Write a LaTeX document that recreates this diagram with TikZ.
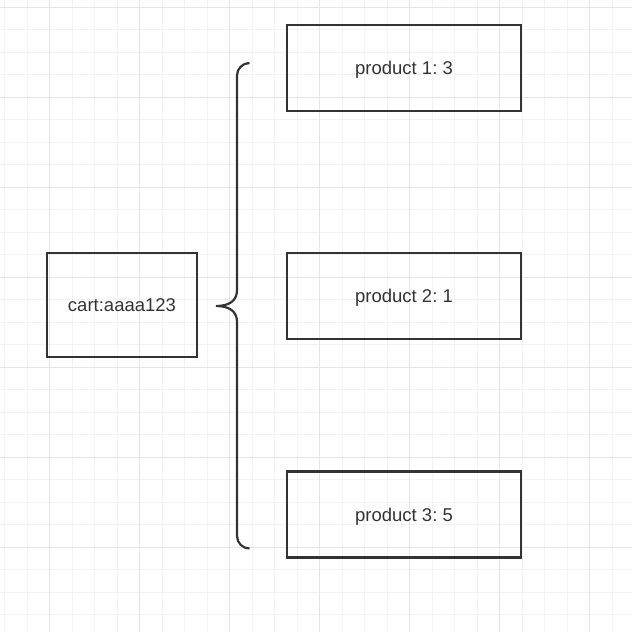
\documentclass[tikz,border=0pt]{standalone}
\usepackage{fontspec}
\setmainfont{Liberation Sans}
\usepackage{xcolor}
\usepackage{tikz}
\usetikzlibrary{positioning}
\definecolor{inkgray}{HTML}{333333}
\definecolor{minorgrid}{HTML}{F3F3F3}
\definecolor{majorgrid}{HTML}{E6E6E6}
\frenchspacing

\begin{document}
\begin{tikzpicture}[x=1pt,y=-1pt,font=\fontsize{18.5}{22}\selectfont]
    \tikzset{
        keyBox/.style={draw=inkgray,line width=2.2pt,text=inkgray,text depth=0pt,minimum width=150pt,minimum height=104pt,inner sep=0pt},
        itemBox/.style={draw=inkgray,line width=2.2pt,text=inkgray,text depth=0pt,minimum width=234pt,minimum height=86pt,inner sep=0pt}
    }
    \useasboundingbox (0,0) rectangle (632,632);
    \fill[white] (0,0) rectangle (632,632);
    % Grid
    \foreach \i in {0,...,28} {
        \draw[minorgrid,line width=1pt] ({4.7+22.5*\i},0) -- ({4.7+22.5*\i},632);
        \draw[minorgrid,line width=1pt] (0,{7.3+22.5*\i}) -- (632,{7.3+22.5*\i});
    }
    \foreach \i in {0,...,6} {
        \draw[majorgrid,line width=1pt] ({49.7+90*\i},0) -- ({49.7+90*\i},632);
        \draw[majorgrid,line width=1pt] (0,{7.3+90*\i}) -- (632,{7.3+90*\i});
    }
    % Cart key
    \node[keyBox] (cart) at (122,305) {cart:aaaa123};
    % Products
    \node[itemBox] (prodA) at (404,68) {product 1: 3};
    \node[itemBox,below=140pt of prodA] (prodB) {product 2: 1};
    \node[itemBox,below=130pt of prodB] (prodC) {product 3: 5};
    % Brace
    \draw[inkgray,line width=2.2pt]
        (249.5,63) arc[start angle=270,end angle=180,radius=12.5]
        -- (237,290) .. controls (237,301) and (229,306) .. (216,306)
        .. controls (229,306) and (237,311) .. (237,322)
        -- (237,536) arc[start angle=180,end angle=90,radius=12.5];
\end{tikzpicture}
\end{document}
